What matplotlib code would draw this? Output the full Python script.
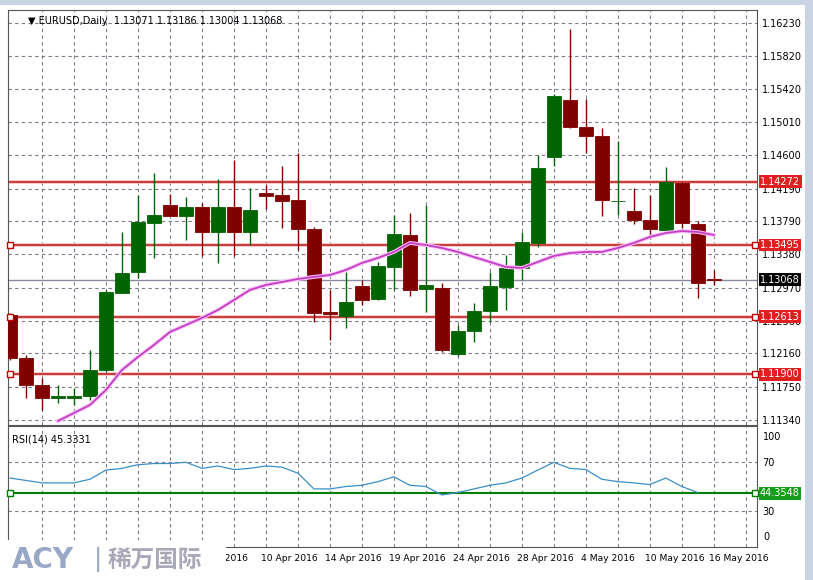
import numpy as np
import matplotlib
matplotlib.use('Agg')
from matplotlib import pyplot as plt
from matplotlib.patches import Rectangle

# daily EURUSD candles, oldest first
opens  = [1.12633,1.12103,1.11770,1.11610,1.11610,1.11635,1.11955,1.12904,1.13162,1.13766,
          1.13988,1.13852,1.13963,1.13655,1.13963,1.13655,1.14136,1.14111,1.14049,1.13692,
          1.12669,1.12620,1.12990,1.12830,1.13224,1.13618,1.12953,1.12965,1.12152,1.12435,
          1.12682,1.12977,1.13212,1.13520,1.14579,1.15281,1.14949,1.14838,1.14037,1.13914,
          1.13803,1.13680,1.14259,1.13754,1.13071]
highs  = [1.12657,1.12140,1.11856,1.11770,1.11733,1.12201,1.12941,1.13655,1.14111,1.14382,
          1.14123,1.14086,1.14012,1.14308,1.14542,1.14197,1.14234,1.14468,1.14628,1.13717,
          1.12941,1.13162,1.13064,1.13286,1.13865,1.13889,1.13988,1.13027,1.12509,1.12780,
          1.13162,1.13372,1.13655,1.14604,1.15355,1.16156,1.15294,1.14936,1.14776,1.14197,
          1.14111,1.14456,1.14271,1.13791,1.13186]
lows   = [1.12078,1.11610,1.11462,1.11548,1.11524,1.11585,1.11930,1.12904,1.13088,1.13335,
          1.13852,1.13557,1.13360,1.13273,1.13360,1.13495,1.13938,1.13704,1.13433,1.12546,
          1.12325,1.12472,1.12756,1.12817,1.12941,1.12867,1.12669,1.12177,1.12127,1.12300,
          1.12546,1.12694,1.13064,1.13470,1.14468,1.14936,1.14628,1.13852,1.13865,1.13754,
          1.13569,1.13680,1.13704,1.12842,1.13004]
closes = [1.12103,1.11770,1.11610,1.11635,1.11635,1.11955,1.12916,1.13150,1.13778,1.13865,
          1.13852,1.13963,1.13655,1.13963,1.13655,1.13926,1.14099,1.14037,1.13692,1.12657,
          1.12645,1.12793,1.12817,1.13236,1.13630,1.12941,1.13002,1.12201,1.12435,1.12682,
          1.12990,1.13212,1.13532,1.14444,1.15331,1.14949,1.14838,1.14049,1.14037,1.13803,
          1.13692,1.14271,1.13766,1.13027,1.13068]

# moving average, starts at bar 3
ma_start = 3
ma = [1.11327,1.11425,1.11524,1.11709,1.11955,1.12115,1.12263,1.12423,1.12509,1.12596,
      1.12694,1.12817,1.12941,1.13002,1.13039,1.13076,1.13101,1.13125,1.13187,1.13273,
      1.13335,1.13409,1.13520,1.13495,1.13458,1.13409,1.13347,1.13286,1.13224,1.13212,
      1.13286,1.13359,1.13396,1.13409,1.13409,1.13458,1.13520,1.13594,1.13643,1.13667,
      1.13655,1.13618]

rsi = [57,55,53,53,53,56,63.6,65,68,69,69,70,65,67,64,65,67,66,61,48,
       48,50,51,54,58,51,50,43,45,48,51,53,57,63.6,70,65,64,56,54,53,
       51.6,57,50,45]

price_ticks = [1.16230,1.15820,1.15420,1.15010,1.14600,1.14190,1.13790,1.13380,
               1.12970,1.12560,1.12160,1.11750,1.11340]
red_levels = [1.14272,1.13495,1.12613,1.11900]
current = 1.13068
rsi_level = 44.3548
date_pos = [12,16,20,24,28,32,36,40,44]
date_labels = ['6 Apr 2016','10 Apr 2016','14 Apr 2016','19 Apr 2016','24 Apr 2016',
               '28 Apr 2016','4 May 2016','10 May 2016','16 May 2016']

plt.rcParams['font.family'] = ['DejaVu Sans']
fig = plt.figure(figsize=(8.13,5.80), dpi=100)
ax = fig.add_axes([8/813, 155/580, 749/813, 415/580])
ax2 = fig.add_axes([8/813, 33/580, 749/813, 121/580])

xmin, xmax = -0.125, 46.7
grid_kw = dict(color='#7a7a8a', lw=0.8, ls=(0,(3,3)))
n = len(opens)
idx = np.arange(n)

for a in (ax, ax2):
    a.set_xlim(xmin, xmax)
    for gx in range(2, 47, 2):
        a.axvline(gx, **grid_kw, zorder=0)
    a.tick_params(length=0, labelsize=7)
    a.yaxis.tick_right()
    for s in a.spines.values():
        s.set_color('#555555'); s.set_linewidth(0.8)

ax.set_ylim(1.11277, 1.16390)
ax.set_yticks(price_ticks)
ax.set_yticklabels(['%.5f' % p for p in price_ticks])
for p in price_ticks:
    ax.axhline(p, **grid_kw, zorder=0)
ax.set_xticks([])

# candles
for i in idx:
    up = closes[i] >= opens[i]
    col = '#006400' if up else '#800000'
    ax.vlines(i, lows[i], highs[i], color=col, lw=1, zorder=3)
    lo, hi = min(opens[i], closes[i]), max(opens[i], closes[i])
    h = max(hi - lo, 0.00003)
    ax.add_patch(Rectangle((i-0.45, lo), 0.9, h, facecolor=col, edgecolor=col, lw=0.6, zorder=4))

ax.plot(np.arange(ma_start, ma_start+len(ma)), ma, color='#ffc0ff', lw=2.8, zorder=5)
ax.plot(np.arange(ma_start, ma_start+len(ma)), ma, color='#c040c0', lw=1.3, zorder=5)

for k, lv in enumerate(red_levels):
    ax.axhline(lv, color='#ffc0c0', lw=2.6, zorder=2)
    ax.axhline(lv, color='#b81818', lw=1.1, zorder=2)
    if k > 0:
        ax.plot([0, 46.6], [lv, lv], ls='none', marker='s', ms=4, mfc='white', mec='#c00000', mew=1, zorder=6, clip_on=False)
    ax.text(1.004, lv, '%.5f' % lv, transform=ax.get_yaxis_transform(), fontsize=7, color='white',
            va='center', ha='left', bbox=dict(boxstyle='square,pad=0.15', fc='#e02020', ec='none'), zorder=7)
ax.axhline(current, color='#8a8aa0', lw=1, zorder=2)
ax.text(1.004, current, '%.5f' % current, transform=ax.get_yaxis_transform(), fontsize=7, color='white',
        va='center', ha='left', bbox=dict(boxstyle='square,pad=0.15', fc='black', ec='none'), zorder=7)
ax.text(0.027, 0.985, '\u25bc EURUSD,Daily  1.13071 1.13186 1.13004 1.13068', transform=ax.transAxes,
        fontsize=7, va='top', ha='left')

# RSI panel
ax2.set_ylim(0, 100)
ax2.set_yticks([70, 30])
ax2.set_yticklabels(['70', '30'])
for lv in (70, 30):
    ax2.axhline(lv, **grid_kw, zorder=0)
ax2.text(1.008, 0.95, '100', transform=ax2.transAxes, fontsize=7, va='top')
ax2.text(1.008, 0.04, '0', transform=ax2.transAxes, fontsize=7, va='bottom')
ax2.plot(np.arange(len(rsi)), rsi, color='#3a8fc8', lw=0.9, zorder=3)
ax2.axhline(rsi_level, color='#008000', lw=1.5, zorder=2)
ax2.plot([0, 46.6], [rsi_level]*2, ls='none', marker='s', ms=4, mfc='white', mec='#008000', mew=1, zorder=6, clip_on=False)
ax2.text(1.004, rsi_level, '%.4f' % rsi_level, transform=ax2.get_yaxis_transform(), fontsize=7, color='white',
         va='center', ha='left', bbox=dict(boxstyle='square,pad=0.15', fc='#1a9a1a', ec='none'), zorder=7)
ax2.text(0.005, 0.93, 'RSI(14) 45.3331', transform=ax2.transAxes, fontsize=7, va='top')

ax2.set_xticks([d - 0.3 for d in date_pos])
ax2.set_xticklabels(date_labels, ha='left', fontsize=6.6)
ax2.tick_params(axis='x', pad=5)

# logo
fig.patches.append(Rectangle((0, 0), 226/813, 40/580, transform=fig.transFigure, fc='white', ec='none', zorder=10))
fig.text(12/813, 20/580, 'ACY', fontsize=20, fontweight='bold', color='#9aa8c8', va='center', zorder=11)
fig.text(94/813, 20/580, '|', fontsize=18, color='#9aa8c8', va='center', zorder=11)
fig.text(108/813, 20/580, '稀万国际', fontsize=17, fontweight='bold', color='#a8a8b8', va='center',
         family=['Noto Sans CJK SC', 'DejaVu Sans'], zorder=11)
# window border
fig.patches.append(Rectangle((805/813, 0), 8/813, 1, transform=fig.transFigure, fc='#c8d4e4', ec='none'))
fig.patches.append(Rectangle((0, 575/580), 1, 5/580, transform=fig.transFigure, fc='#c8d4e4', ec='none'))

fig.savefig('out.png', dpi=100)
